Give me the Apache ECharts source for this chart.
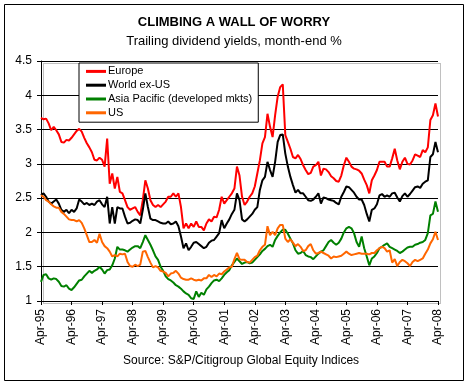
<!DOCTYPE html>
<html>
<head>
<meta charset="utf-8">
<script src="https://cdn.jsdelivr.net/npm/echarts@6/dist/echarts.min.js"></script>
<style>
html,body{margin:0;padding:0;background:#fff;}
#chart{width:468px;height:385px;}
</style>
</head>
<body>
<div id="chart"></div>
<script>
// Month-end categories Apr-95 .. Apr-08
const monthNames = ['Jan','Feb','Mar','Apr','May','Jun','Jul','Aug','Sep','Oct','Nov','Dec'];
const categories = [];
for (let i = 0; i <= 156; i++) {
  const mi = (3 + i) % 12;
  const yr = 1995 + Math.floor((3 + i) / 12);
  categories.push(monthNames[mi] + '-' + String(yr % 100).padStart(2, '0'));
}

const europe = [
  3.67,3.65,3.66,3.59,3.49,3.54,3.49,3.43,3.32,3.31,3.35,3.34,3.38,3.43,3.48,3.51,3.47,3.38,3.30,3.24,
  3.17,3.06,3.05,3.09,3.06,2.96,3.37,2.71,2.86,2.64,2.81,2.59,2.57,2.47,2.37,2.33,2.35,2.37,2.30,2.25,
  2.47,2.76,2.64,2.47,2.40,2.37,2.40,2.37,2.41,2.45,2.52,2.52,2.57,2.52,2.57,2.37,2.06,2.13,2.06,2.13,
  2.08,2.16,2.08,2.08,2.03,2.13,2.19,2.16,2.23,2.22,2.33,2.52,2.42,2.47,2.52,2.57,2.64,2.96,2.83,2.52,
  2.40,2.45,2.52,2.57,2.67,2.86,3.05,3.30,3.39,3.73,3.54,3.39,3.71,3.98,4.12,4.16,3.42,3.32,3.22,3.10,
  3.08,3.13,3.07,2.98,2.91,2.85,2.87,2.96,2.98,3.03,2.83,2.93,2.92,2.88,2.82,2.79,2.75,2.74,2.83,2.98,
  3.09,3.03,2.96,2.93,2.92,2.90,2.86,2.77,2.69,2.57,2.76,2.83,2.91,3.03,3.03,3.03,2.96,2.96,3.08,3.22,
  3.05,2.92,3.03,3.09,3.00,2.99,3.05,3.14,3.12,3.10,3.20,3.17,3.24,3.64,3.71,3.88,3.69
];
const worldExUS = [
  2.54,2.57,2.52,2.45,2.42,2.45,2.48,2.42,2.33,2.30,2.33,2.28,2.33,2.30,2.35,2.48,2.45,2.41,2.43,2.40,
  2.42,2.40,2.45,2.47,2.41,2.37,2.52,2.13,2.37,2.13,2.37,2.35,2.35,2.23,2.13,2.14,2.17,2.19,2.18,2.13,
  2.33,2.57,2.37,2.20,2.18,2.18,2.16,2.14,2.13,2.13,2.16,2.12,2.13,2.16,2.09,1.94,1.77,1.84,1.74,1.79,
  1.85,1.86,1.83,1.80,1.77,1.79,1.85,1.88,1.89,1.94,1.99,2.18,2.06,2.13,2.19,2.27,2.33,2.57,2.47,2.19,
  2.16,2.19,2.23,2.27,2.33,2.37,2.62,2.76,2.81,3.03,2.91,2.81,3.03,3.32,3.42,3.43,3.15,2.96,2.81,2.69,
  2.58,2.62,2.57,2.57,2.52,2.47,2.46,2.48,2.52,2.57,2.42,2.51,2.50,2.48,2.47,2.46,2.43,2.41,2.52,2.59,
  2.67,2.66,2.62,2.58,2.52,2.48,2.48,2.40,2.27,2.16,2.33,2.35,2.41,2.54,2.56,2.52,2.54,2.52,2.57,2.58,
  2.51,2.45,2.53,2.57,2.52,2.56,2.61,2.66,2.67,2.65,2.71,2.74,2.76,3.10,3.14,3.32,3.17
];
const asiaPacific = [
  1.28,1.38,1.39,1.33,1.31,1.33,1.32,1.28,1.22,1.21,1.23,1.18,1.16,1.20,1.25,1.30,1.31,1.36,1.40,1.44,
  1.41,1.44,1.46,1.50,1.46,1.40,1.45,1.46,1.52,1.62,1.79,1.75,1.75,1.74,1.72,1.75,1.78,1.80,1.80,1.77,
  1.86,1.96,1.89,1.82,1.74,1.65,1.60,1.50,1.44,1.36,1.32,1.30,1.27,1.23,1.21,1.18,1.14,1.11,1.09,1.04,
  1.03,1.14,1.06,1.12,1.09,1.17,1.21,1.26,1.30,1.31,1.29,1.33,1.38,1.42,1.45,1.52,1.57,1.62,1.58,1.54,
  1.56,1.57,1.55,1.56,1.60,1.64,1.68,1.73,1.76,1.80,1.82,1.79,1.89,1.95,2.00,2.04,2.04,1.98,1.91,1.84,
  1.74,1.69,1.70,1.73,1.67,1.65,1.64,1.61,1.65,1.69,1.72,1.74,1.80,1.86,1.89,1.85,1.82,1.85,1.91,2.00,
  2.06,2.08,2.06,1.99,1.86,1.79,1.94,1.77,1.65,1.52,1.62,1.65,1.70,1.77,1.79,1.82,1.84,1.79,1.77,1.75,
  1.73,1.70,1.72,1.75,1.78,1.79,1.79,1.82,1.83,1.85,1.86,1.89,1.99,2.25,2.27,2.45,2.30
];
const us = [
  2.54,2.52,2.47,2.45,2.41,2.38,2.36,2.36,2.30,2.27,2.23,2.19,2.18,2.18,2.16,2.18,2.14,2.06,1.96,1.86,
  1.86,1.89,1.85,1.98,1.86,1.80,1.77,1.72,1.65,1.67,1.65,1.69,1.68,1.69,1.57,1.51,1.50,1.53,1.51,1.53,
  1.72,1.73,1.64,1.56,1.49,1.51,1.49,1.44,1.43,1.41,1.36,1.40,1.41,1.44,1.40,1.34,1.32,1.31,1.31,1.33,
  1.31,1.30,1.31,1.30,1.33,1.33,1.38,1.35,1.38,1.36,1.40,1.39,1.43,1.46,1.49,1.50,1.61,1.70,1.61,1.60,
  1.60,1.57,1.56,1.60,1.64,1.66,1.74,1.79,1.82,2.09,1.96,2.01,1.96,2.06,2.11,2.11,1.91,1.86,1.90,1.85,
  1.80,1.83,1.79,1.73,1.74,1.80,1.83,1.74,1.69,1.70,1.72,1.70,1.68,1.66,1.62,1.65,1.64,1.65,1.66,1.69,
  1.72,1.69,1.67,1.68,1.69,1.70,1.69,1.69,1.69,1.68,1.70,1.70,1.74,1.77,1.79,1.77,1.72,1.74,1.56,1.61,
  1.51,1.57,1.60,1.58,1.55,1.51,1.57,1.60,1.58,1.60,1.62,1.69,1.75,1.84,1.90,2.01,1.89
];

const seriesNames = ['Europe', 'World ex-US', 'Asia Pacific (developed mkts)', 'US'];
const seriesColors = ['#ff0000', '#000000', '#008000', '#ff6600'];
const seriesData = [europe, worldExUS, asiaPacific, us];

const FONT = '"Liberation Sans", Arial, sans-serif';
const chart = echarts.init(document.getElementById('chart'), null, {renderer: 'canvas'});

chart.setOption({
  animation: false,
  backgroundColor: '#ffffff',
  textStyle: {fontFamily: FONT, color: '#000'},
  title: [
    {text: 'CLIMBING A WALL OF WORRY', left: 'center', top: 16, padding: 0,
     textStyle: {fontFamily: FONT, fontSize: 13, fontWeight: 'bold', color: '#000'}},
    {text: 'Trailing dividend yields, month-end %', left: 'center', top: 35, padding: 0,
     textStyle: {fontFamily: FONT, fontSize: 13, fontWeight: 'normal', color: '#000'}},
    {text: 'Source: S&P/Citigroup Global Equity Indices', left: 123, top: 355, padding: 0,
     textStyle: {fontFamily: FONT, fontSize: 12, fontWeight: 'normal', color: '#000'}}
  ],
  graphic: [
    {type: 'rect', left: 4, top: 4, z: -1, silent: true,
     shape: {width: 459, height: 376}, style: {fill: '#fff', stroke: '#000', lineWidth: 1}},
    {type: 'rect', left: 41, top: 61, z: 0, silent: true,
     shape: {width: 397, height: 240}, style: {fill: 'none', stroke: '#808080', lineWidth: 1, lineDash: [1, 1]}}
  ],
  legend: {
    orient: 'vertical', left: 79, top: 63,
    data: seriesNames,
    icon: 'rect', itemWidth: 20, itemHeight: 3, itemGap: 1,
    padding: [2, 6, 3, 7],
    backgroundColor: '#fff', borderColor: '#000', borderWidth: 1,
    textStyle: {fontFamily: FONT, fontSize: 11, color: '#000', lineHeight: 12.8, padding: [0, 0, 0, -3]},
    z: 10
  },
  grid: {left: 41, right: 30, top: 61, bottom: 84, containLabel: false},
  xAxis: {
    type: 'category', data: categories, boundaryGap: false,
    axisLine: {lineStyle: {color: '#000', width: 1}},
    axisTick: {show: true, interval: 11, length: 4, lineStyle: {color: '#000'}},
    axisLabel: {interval: 11, rotate: 90, margin: 8, fontFamily: FONT, fontSize: 12, color: '#000'},
    splitLine: {show: false}
  },
  yAxis: {
    type: 'value', min: 1, max: 4.5, interval: 0.5,
    axisLine: {show: true, lineStyle: {color: '#000', width: 1}},
    axisTick: {show: true, length: 4, lineStyle: {color: '#000'}},
    axisLabel: {margin: 9, fontFamily: FONT, fontSize: 12, color: '#000'},
    splitLine: {show: true, lineStyle: {color: '#000', width: 1}}
  },
  series: seriesNames.map((name, i) => ({
    name: name, type: 'line', data: seriesData[i],
    showSymbol: false, symbol: 'none',
    lineStyle: {color: seriesColors[i], width: 2},
    itemStyle: {color: seriesColors[i]},
    z: 2 + i
  }))
});
</script>
</body>
</html>
